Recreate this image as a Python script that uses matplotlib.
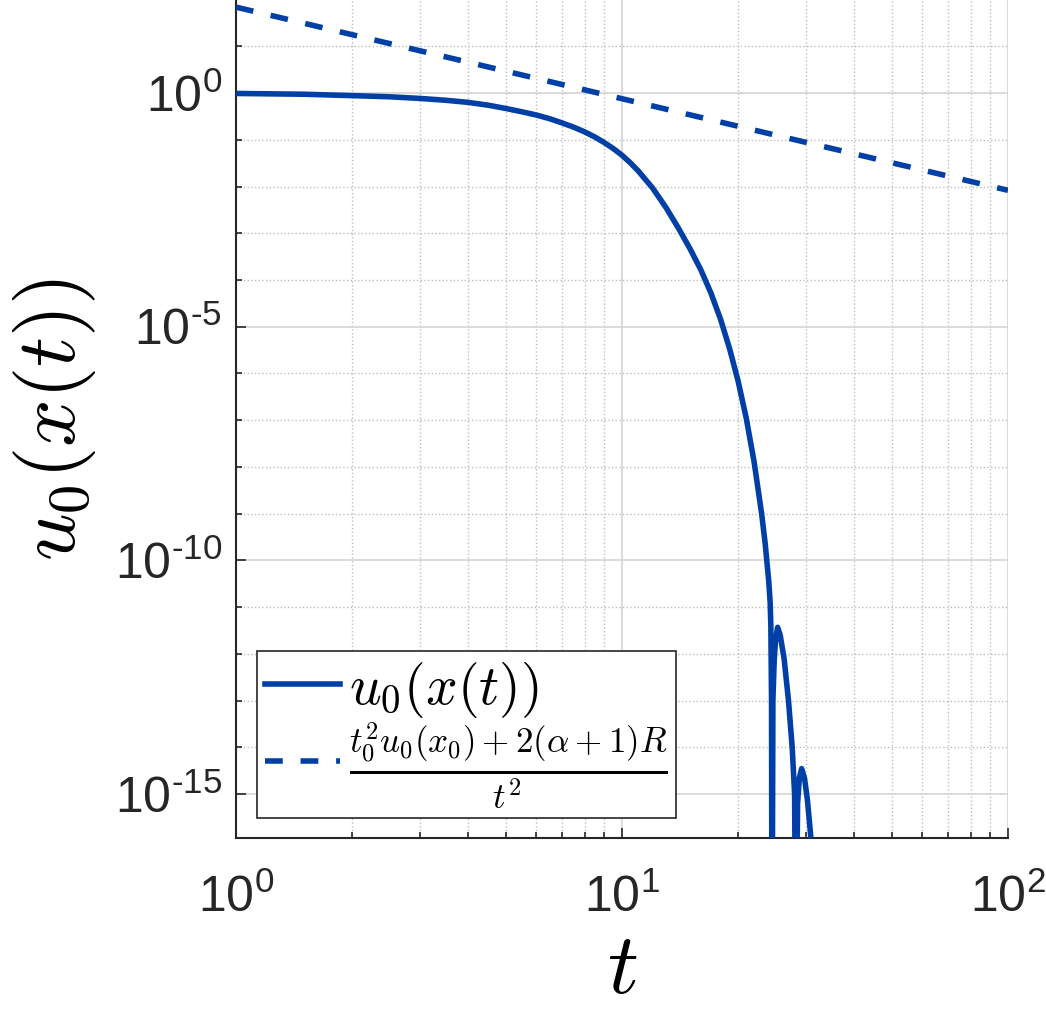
import numpy as np
import matplotlib
matplotlib.use('Agg')
import matplotlib.pyplot as plt
from matplotlib.ticker import LogLocator, NullFormatter, FuncFormatter

plt.rcParams['mathtext.fontset'] = 'custom'
plt.rcParams['mathtext.rm'] = 'Liberation Sans'
plt.rcParams['mathtext.it'] = 'Liberation Sans:italic'
plt.rcParams['font.family'] = ['Liberation Sans', 'DejaVu Sans']

# values (log-log axes)
t_sol = [1.0, 1.5, 2.0, 2.5, 3.0, 3.5, 4.0, 4.5, 5.0, 5.5, 6.0, 6.5, 7.0,
         7.5, 8.0, 8.5, 9.0, 9.5, 10.0, 10.5, 11.0, 12.0, 13.0, 14.0, 15.0,
         16.0, 17.0, 18.0, 19.0, 20.0, 21.0, 22.0, 23.0, 23.5, 24.0, 24.2,
         24.3, 24.4, 24.45,
         24.5, 24.6, 24.8, 25.0, 25.3, 25.7, 26.3, 27.0, 27.6, 28.0, 28.15,
         28.3, 28.5, 28.8, 29.2, 29.7, 30.2, 30.6, 30.9, 31.0]
u_sol = [0.98, 0.944, 0.881, 0.832, 0.767, 0.700, 0.631, 0.550, 0.468, 0.398,
         0.339, 0.282, 0.229, 0.186, 0.148, 0.115, 0.087, 0.0646, 0.0468,
         0.0324, 0.0219, 9.3e-3, 3.55e-3, 1.29e-3, 4.68e-4,
         1.66e-4, 5.25e-5, 1.45e-5, 3.39e-6, 6.76e-7, 1.07e-7, 1.26e-8,
         1.0e-9, 2.24e-10, 3.55e-11, 1.26e-11,
         4.0e-12, 1.0e-13, 1.0e-18,
         1.0e-18, 1.0e-13, 7.9e-13, 2.0e-12, 3.7e-12, 2.5e-12, 7.9e-13,
         1.0e-13, 1.0e-14, 1.0e-15, 1.0e-18,
         1.0e-18, 6.3e-16, 2.2e-15, 3.5e-15, 2.2e-15, 7.9e-16, 2.5e-16,
         1.0e-16, 1.0e-18]

t_bound = [1.0, 100.0]
u_bound = [69.0, 8.3e-3]

yticks = [1e-15, 1e-10, 1e-5, 1e0]
xticks = [1, 10, 100]

blue = '#0040A6'


def sci_label(v, pos):
    e = int(round(np.log10(v)))
    if e < 0:
        return r'$\mathregular{10^{\text{-}%d}}$' % (-e)
    return r'$\mathregular{10^{%d}}$' % e


fig = plt.figure(figsize=(10.46, 10.10), dpi=100)
ax = fig.add_axes([236 / 1046, 172 / 1010, 772 / 1046, 838 / 1010])

ax.loglog(t_sol, u_sol, color=blue, lw=4, label=r'$u_0(x(t))$', zorder=3)
ax.loglog(t_bound, u_bound, color=blue, lw=4, ls='--', dashes=(3.2, 3.2),
          label=r'$\frac{t_0^2u_0(x_0)+2(\alpha+1)R}{t^2}$', zorder=3)

ax.set_xlim(1, 100)
ax.set_ylim(1.15e-16, 98)

ax.set_xticks(xticks)
ax.set_yticks(yticks)
ax.xaxis.set_major_formatter(FuncFormatter(sci_label))
ax.yaxis.set_major_formatter(FuncFormatter(sci_label))
ax.yaxis.set_minor_locator(LogLocator(base=10, subs=[1.0], numticks=40))
ax.yaxis.set_minor_formatter(NullFormatter())
ax.xaxis.set_minor_locator(LogLocator(base=10, subs=np.arange(2, 10), numticks=40))
ax.xaxis.set_minor_formatter(NullFormatter())

ax.tick_params(which='both', direction='in', colors='#262626', width=1.2)
ax.tick_params(which='major', length=7, labelsize=36)
ax.tick_params(which='minor', length=4)
ax.tick_params(axis='x', which='major', pad=26)
ax.tick_params(axis='y', which='major', pad=10)

ax.grid(True, which='major', color='#d4d4d4', lw=1.2, ls='-')
ax.grid(True, which='minor', color='#bdbdbd', lw=1.0, ls=':')
ax.set_axisbelow(True)

for s in ['top', 'right']:
    ax.spines[s].set_visible(False)
for s in ['left', 'bottom']:
    ax.spines[s].set_color('#262626')
    ax.spines[s].set_linewidth(1.5)

ax.set_xlabel(r'$t$', fontsize=62, math_fontfamily='cm', labelpad=6)
ax.set_ylabel(r'$u_0(x(t))$', fontsize=60, math_fontfamily='cm', labelpad=12)

leg = ax.legend(loc='lower left', bbox_to_anchor=(0.027, 0.024), borderaxespad=0,
                fontsize=40, fancybox=False, framealpha=1, edgecolor='#262626',
                handlelength=1.35, handletextpad=0.15, borderpad=0.15,
                labelspacing=0.0)
leg.get_frame().set_linewidth(1.2)
for txt in leg.get_texts():
    txt.set_math_fontfamily('cm')
leg.get_texts()[1].set_fontsize(36)

fig.savefig('out.png', dpi=100)
